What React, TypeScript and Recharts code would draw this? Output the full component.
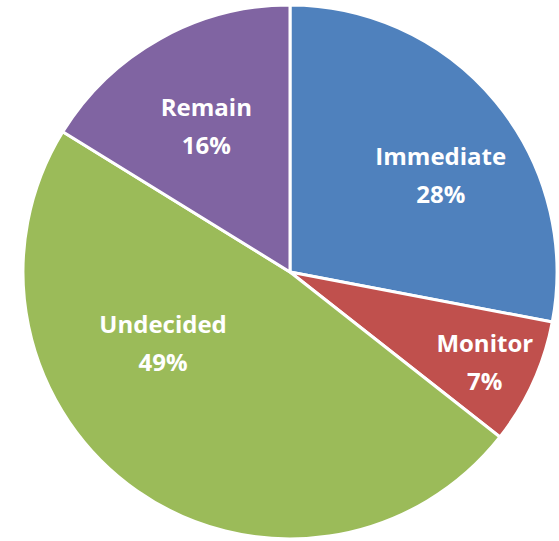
import { PieChart, Pie, Cell } from 'recharts';

const categories = ['Immediate', 'Monitor', 'Undecided', 'Remain'];
// slice sizes as measured from the wedges
const shares = [28, 7.6, 48.2, 16.2];
// percentages as printed on the chart
const shareLabels = ['28%', '7%', '49%', '16%'];

const sliceColors = ['#4F81BD', '#C0504D', '#9BBB59', '#8064A2'];
// label placement tweaks (radius in px, angle shift in degrees), like Excel's best fit
const labelRadius = [180, 214, 145, 169];
const labelShift = [-6.5, 0, -26.2, 0.5];

const RAD = Math.PI / 180;

function renderLabel(props: any) {
  const { cx, cy, midAngle, index, name } = props;
  const a = (midAngle + labelShift[index]) * RAD;
  const x = cx + labelRadius[index] * Math.cos(a);
  const y = cy - labelRadius[index] * Math.sin(a);
  return (
    <text
      x={x}
      y={y}
      fill="#ffffff"
      textAnchor="middle"
      dominantBaseline="central"
      style={{ fontFamily: '"Open Sans", Lato, sans-serif', fontWeight: 700, fontSize: 24 }}
    >
      <tspan x={x} y={y - 19}>{name}</tspan>
      <tspan x={x} y={y + 19}>{shareLabels[index]}</tspan>
    </text>
  );
}

export default function App() {
  const data = categories.map((c, i) => ({ name: c, value: shares[i] }));

  return (
    <div style={{ position: 'absolute', left: 0, top: 0, width: 559, height: 541, background: '#fff' }}>
      <PieChart width={559} height={541} margin={{ top: 0, right: 0, bottom: 0, left: 0 }}>
        <Pie
          data={data}
          dataKey="value"
          nameKey="name"
          cx={290}
          cy={272}
          outerRadius={267}
          startAngle={90}
          endAngle={-270}
          stroke="#ffffff"
          strokeWidth={3}
          label={renderLabel}
          labelLine={false}
          isAnimationActive={false}
        >
          {data.map((d, i) => (
            <Cell key={d.name} fill={sliceColors[i]} />
          ))}
        </Pie>
      </PieChart>
    </div>
  );
}
